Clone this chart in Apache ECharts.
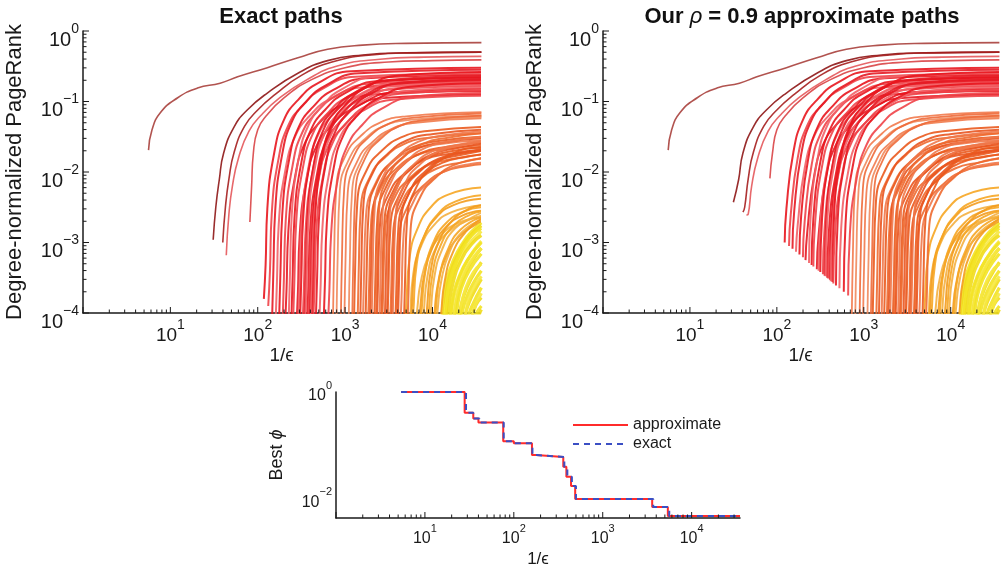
<!DOCTYPE html>
<html>
<head>
<meta charset="utf-8">
<script src="https://cdn.jsdelivr.net/npm/echarts@6/dist/echarts.min.js"></script>
<style>
html,body{margin:0;padding:0;background:#fff}
#chart{width:1001px;height:574px}
</style>
</head>
<body>
<div id="chart"></div>
<script>
var FONT = "'Liberation Sans', 'DejaVu Sans', sans-serif";
var INK = '#1a1a1a';

// tick labels (powers of ten)
var xTickExps = [1, 2, 3, 4];
var yTickExps = [0, -1, -2, -3, -4];
var phiTickExps = [0, -2];

// path points, as [log10(1/eps), log10(pagerank)]
var darkLines = [
  [[0.75,-1.69],[0.79,-1.4],[0.885,-1.16],[1.08,-0.95],[1.31,-0.81],[1.57,-0.74],[1.77,-0.65],[2.11,-0.52],[2.46,-0.38],[2.8,-0.26],[3.2,-0.2],[3.7,-0.175],[4.56,-0.165]],
  [[1.49,-2.96],[1.52,-2.5],[1.56,-2.11],[1.61,-1.73],[1.73,-1.36],[1.88,-1.12],[2.11,-0.88],[2.46,-0.6],[2.8,-0.42],[3.2,-0.34],[3.7,-0.31],[4.56,-0.3]],
  [[1.6,-3.0],[1.63,-2.5],[1.67,-2.1],[1.73,-1.72],[1.85,-1.35],[2.0,-1.12],[2.2,-0.9],[2.5,-0.63],[2.85,-0.44],[3.3,-0.34],[3.8,-0.31],[4.56,-0.3]],
  [[1.64,-3.18],[1.67,-2.6],[1.71,-2.2],[1.78,-1.8],[1.9,-1.42],[2.05,-1.18],[2.25,-0.95],[2.55,-0.7],[2.9,-0.5],[3.4,-0.4],[3.9,-0.37],[4.56,-0.36]],
  [[1.91,-2.71],[1.93,-2.2],[1.95,-1.73],[2.0,-1.4],[2.1,-1.2],[2.3,-0.95],[2.6,-0.7],[3.0,-0.52],[3.5,-0.44],[4.0,-0.42],[4.56,-0.41]]
];
var darkColors = ['#a8403c', '#8e1616', '#a51e1e', '#e4585b', '#d94446'];
// where the approximate paths begin (right panel)
var darkStartsApprox = [null, [1.5,-2.43], [1.61,-2.57], [1.65,-2.61], [1.92,-2.09]];

var redLines = [
  [[2.07,-3.8],[2.09,-3.32],[2.11,-2.52],[2.19,-1.72],[2.3,-1.26],[2.46,-0.98],[2.69,-0.74],[3.07,-0.57],[4.56,-0.52]],
  [[2.12,-3.9],[2.14,-3.4],[2.16,-2.6],[2.24,-1.8],[2.35,-1.34],[2.51,-1.06],[2.74,-0.82],[3.12,-0.65],[4.56,-0.6]],
  [[2.16,-4.3],[2.18,-3.35],[2.2,-2.55],[2.28,-1.75],[2.39,-1.29],[2.55,-1.01],[2.78,-0.77],[3.16,-0.6],[4.56,-0.55]],
  [[2.2,-4.3],[2.22,-3.55],[2.24,-2.75],[2.32,-1.95],[2.43,-1.49],[2.59,-1.21],[2.82,-0.97],[3.2,-0.8],[4.56,-0.75]],
  [[2.24,-4.3],[2.26,-3.42],[2.28,-2.62],[2.36,-1.82],[2.47,-1.36],[2.63,-1.08],[2.86,-0.84],[3.24,-0.67],[4.56,-0.62]],
  [[2.28,-4.3],[2.3,-3.5],[2.32,-2.7],[2.4,-1.9],[2.51,-1.44],[2.67,-1.16],[2.9,-0.92],[3.28,-0.75],[4.56,-0.7]],
  [[2.31,-4.3],[2.33,-3.65],[2.35,-2.85],[2.43,-2.05],[2.54,-1.59],[2.7,-1.31],[2.93,-1.07],[3.31,-0.9],[4.56,-0.85]],
  [[2.35,-4.3],[2.37,-3.4],[2.39,-2.6],[2.47,-1.8],[2.58,-1.34],[2.74,-1.06],[2.97,-0.82],[3.35,-0.65],[4.56,-0.6]],
  [[2.38,-4.3],[2.4,-3.46],[2.42,-2.66],[2.5,-1.86],[2.61,-1.4],[2.77,-1.12],[3.0,-0.88],[3.38,-0.71],[4.56,-0.66]],
  [[2.4,-4.3],[2.42,-3.52],[2.44,-2.72],[2.52,-1.92],[2.63,-1.46],[2.79,-1.18],[3.02,-0.94],[3.4,-0.77],[4.56,-0.72]],
  [[2.44,-4.3],[2.46,-3.7],[2.48,-2.9],[2.56,-2.1],[2.67,-1.64],[2.83,-1.36],[3.06,-1.12],[3.44,-0.95],[4.56,-0.9]],
  [[2.46,-4.3],[2.48,-3.54],[2.5,-2.74],[2.58,-1.94],[2.69,-1.48],[2.85,-1.2],[3.08,-0.96],[3.46,-0.79],[4.56,-0.74]],
  [[2.48,-4.3],[2.5,-3.46],[2.52,-2.66],[2.6,-1.86],[2.71,-1.4],[2.87,-1.12],[3.1,-0.88],[3.48,-0.71],[4.56,-0.66]],
  [[2.51,-4.3],[2.53,-3.58],[2.55,-2.78],[2.63,-1.98],[2.74,-1.52],[2.9,-1.24],[3.13,-1.0],[3.51,-0.83],[4.56,-0.78]],
  [[2.53,-4.3],[2.55,-3.44],[2.57,-2.64],[2.65,-1.84],[2.76,-1.38],[2.92,-1.1],[3.15,-0.86],[3.53,-0.69],[4.56,-0.64]],
  [[2.54,-4.3],[2.56,-3.5],[2.58,-2.7],[2.66,-1.9],[2.77,-1.44],[2.93,-1.16],[3.16,-0.92],[3.54,-0.75],[4.56,-0.7]],
  [[2.56,-4.3],[2.58,-3.62],[2.6,-2.82],[2.68,-2.02],[2.79,-1.56],[2.95,-1.28],[3.18,-1.04],[3.56,-0.87],[4.56,-0.82]],
  [[2.57,-4.3],[2.59,-3.72],[2.61,-2.92],[2.69,-2.12],[2.8,-1.66],[2.96,-1.38],[3.19,-1.14],[3.57,-0.97],[4.56,-0.92]],
  [[2.59,-4.3],[2.61,-3.5],[2.63,-2.7],[2.71,-1.9],[2.82,-1.44],[2.98,-1.16],[3.21,-0.92],[3.59,-0.75],[4.56,-0.7]],
  [[2.6,-4.3],[2.62,-3.56],[2.64,-2.76],[2.72,-1.96],[2.83,-1.5],[2.99,-1.22],[3.22,-0.98],[3.6,-0.81],[4.56,-0.76]],
  [[2.62,-4.3],[2.64,-3.38],[2.66,-2.58],[2.74,-1.78],[2.85,-1.32],[3.01,-1.04],[3.24,-0.8],[3.62,-0.63],[4.56,-0.58]],
  [[2.63,-4.3],[2.65,-3.64],[2.67,-2.84],[2.75,-2.04],[2.86,-1.58],[3.02,-1.3],[3.25,-1.06],[3.63,-0.89],[4.56,-0.84]],
  [[2.66,-4.3],[2.68,-3.48],[2.7,-2.68],[2.78,-1.88],[2.89,-1.42],[3.05,-1.14],[3.28,-0.9],[3.66,-0.73],[4.56,-0.68]],
  [[2.7,-4.3],[2.72,-3.6],[2.74,-2.8],[2.82,-2.0],[2.93,-1.54],[3.09,-1.26],[3.32,-1.02],[3.7,-0.85],[4.56,-0.8]],
  [[2.75,-4.3],[2.77,-3.54],[2.79,-2.74],[2.87,-1.94],[2.98,-1.48],[3.14,-1.2],[3.37,-0.96],[3.75,-0.79],[4.56,-0.74]],
  [[2.8,-4.3],[2.82,-3.68],[2.84,-2.88],[2.92,-2.08],[3.03,-1.62],[3.19,-1.34],[3.42,-1.1],[3.8,-0.93],[4.56,-0.88]]
];
var redColors = ['#e8161e', '#ef4348', '#e51a22', '#f26166'];
var redStartsApprox = [
  [2.09,-3.0],[2.14,-3.05],[2.18,-3.09],[2.22,-3.13],[2.26,-3.17],[2.3,-3.21],[2.33,-3.25],[2.37,-3.29],[2.4,-3.32],[2.42,-3.34],
  [2.46,-3.38],[2.48,-3.4],[2.5,-3.42],[2.53,-3.45],[2.55,-3.47],[2.56,-3.48],[2.58,-3.5],[2.59,-3.51],[2.61,-3.53],[2.62,-3.55],
  [2.64,-3.56],[2.65,-3.58],[2.68,-3.61],[2.72,-3.65],[2.77,-3.7],[2.82,-3.75]
];

var topOrangeLines = [
  [[2.86,-4.3],[2.875,-3.15],[2.9,-2.21],[3.02,-1.73],[3.17,-1.5],[3.4,-1.3],[3.7,-1.21],[4.56,-1.15]],
  [[2.9,-4.3],[2.915,-3.2],[2.94,-2.26],[3.06,-1.78],[3.21,-1.55],[3.44,-1.35],[3.74,-1.26],[4.56,-1.2]],
  [[2.95,-4.3],[2.965,-3.17],[2.99,-2.23],[3.11,-1.75],[3.26,-1.52],[3.49,-1.32],[3.79,-1.23],[4.56,-1.17]],
  [[2.99,-4.3],[3.005,-3.24],[3.03,-2.3],[3.15,-1.82],[3.3,-1.59],[3.53,-1.39],[3.83,-1.3],[4.56,-1.24]],
  [[3.04,-4.3],[3.055,-3.22],[3.08,-2.28],[3.2,-1.8],[3.35,-1.57],[3.58,-1.37],[3.88,-1.28],[4.56,-1.22]],
  [[3.08,-4.3],[3.095,-3.2],[3.12,-2.26],[3.24,-1.78],[3.39,-1.55],[3.62,-1.35],[3.92,-1.26],[4.56,-1.2]]
];
var topOrangeColors = ['#f27a4c', '#f08a5c', '#ee6a3a'];

var orangeLines = [
  [[3.1,-4.3],[3.115,-3.36],[3.14,-2.42],[3.26,-1.94],[3.41,-1.71],[3.64,-1.51],[3.94,-1.42],[4.56,-1.36]],
  [[3.14,-4.3],[3.155,-3.45],[3.18,-2.51],[3.3,-2.03],[3.45,-1.8],[3.68,-1.6],[3.98,-1.51],[4.56,-1.45]],
  [[3.17,-4.3],[3.185,-3.4],[3.21,-2.46],[3.33,-1.98],[3.48,-1.75],[3.71,-1.55],[4.01,-1.46],[4.56,-1.4]],
  [[3.2,-4.3],[3.215,-3.55],[3.24,-2.61],[3.36,-2.13],[3.51,-1.9],[3.74,-1.7],[4.04,-1.61],[4.56,-1.55]],
  [[3.23,-4.3],[3.245,-3.5],[3.27,-2.56],[3.39,-2.08],[3.54,-1.85],[3.77,-1.65],[4.07,-1.56],[4.56,-1.5]],
  [[3.26,-4.3],[3.275,-3.62],[3.3,-2.68],[3.42,-2.2],[3.57,-1.97],[3.8,-1.77],[4.1,-1.68],[4.56,-1.62]],
  [[3.28,-4.3],[3.295,-3.52],[3.32,-2.58],[3.44,-2.1],[3.59,-1.87],[3.82,-1.67],[4.12,-1.58],[4.56,-1.52]],
  [[3.3,-4.3],[3.315,-3.42],[3.34,-2.48],[3.46,-2.0],[3.61,-1.77],[3.84,-1.57],[4.14,-1.48],[4.56,-1.42]],
  [[3.33,-4.3],[3.345,-3.58],[3.37,-2.64],[3.49,-2.16],[3.64,-1.93],[3.87,-1.73],[4.17,-1.64],[4.56,-1.58]],
  [[3.35,-4.3],[3.365,-3.45],[3.39,-2.51],[3.51,-2.03],[3.66,-1.8],[3.89,-1.6],[4.19,-1.51],[4.56,-1.45]],
  [[3.36,-4.3],[3.375,-3.68],[3.4,-2.74],[3.52,-2.26],[3.67,-2.03],[3.9,-1.83],[4.2,-1.74],[4.56,-1.68]],
  [[3.39,-4.3],[3.405,-3.5],[3.43,-2.56],[3.55,-2.08],[3.7,-1.85],[3.93,-1.65],[4.23,-1.56],[4.56,-1.5]],
  [[3.41,-4.3],[3.425,-3.64],[3.45,-2.7],[3.57,-2.22],[3.72,-1.99],[3.95,-1.79],[4.25,-1.7],[4.56,-1.64]],
  [[3.42,-4.3],[3.435,-3.75],[3.46,-2.81],[3.58,-2.33],[3.73,-2.1],[3.96,-1.9],[4.26,-1.81],[4.56,-1.75]],
  [[3.45,-4.3],[3.465,-3.6],[3.49,-2.66],[3.61,-2.18],[3.76,-1.95],[3.99,-1.75],[4.29,-1.66],[4.56,-1.6]],
  [[3.47,-4.3],[3.485,-3.55],[3.51,-2.61],[3.63,-2.13],[3.78,-1.9],[4.01,-1.7],[4.31,-1.61],[4.56,-1.56]],
  [[3.48,-4.3],[3.495,-3.7],[3.52,-2.76],[3.64,-2.28],[3.79,-2.05],[4.02,-1.85],[4.32,-1.76],[4.56,-1.7]],
  [[3.51,-4.3],[3.525,-3.8],[3.55,-2.86],[3.67,-2.38],[3.82,-2.15],[4.05,-1.95],[4.35,-1.86],[4.56,-1.8]],
  [[3.53,-4.3],[3.545,-3.66],[3.57,-2.72],[3.69,-2.24],[3.84,-2.01],[4.07,-1.81],[4.37,-1.72],[4.56,-1.7]],
  [[3.54,-4.3],[3.555,-3.55],[3.58,-2.61],[3.7,-2.13],[3.85,-1.9],[4.08,-1.7],[4.38,-1.61],[4.56,-1.57]],
  [[3.57,-4.3],[3.585,-3.72],[3.61,-2.78],[3.73,-2.3],[3.88,-2.07],[4.11,-1.87],[4.41,-1.78],[4.56,-1.75]],
  [[3.58,-4.3],[3.595,-3.85],[3.62,-2.91],[3.74,-2.43],[3.89,-2.2],[4.12,-2.0],[4.42,-1.91],[4.56,-1.89]],
  [[3.6,-4.3],[3.615,-3.65],[3.64,-2.71],[3.76,-2.23],[3.91,-2.0],[4.14,-1.8],[4.44,-1.71],[4.56,-1.69]],
  [[3.63,-4.3],[3.645,-3.82],[3.67,-2.88],[3.79,-2.4],[3.94,-2.17],[4.17,-1.97],[4.47,-1.88],[4.56,-1.87]],
  [[3.67,-4.3],[3.685,-3.6],[3.71,-2.66],[3.83,-2.18],[3.98,-1.95],[4.21,-1.75],[4.51,-1.66],[4.56,-1.66]],
  [[3.71,-4.3],[3.725,-3.75],[3.75,-2.81],[3.87,-2.33],[4.02,-2.1],[4.25,-1.9],[4.56,-1.81]]
];
var orangeColors = ['#ea5a1e', '#ee6a30', '#e95520', '#f0784a'];

var lightOrangeLines = [
  [[3.68,-4.3],[3.7,-3.9],[3.74,-3.2],[3.83,-2.8],[3.98,-2.5],[4.18,-2.32],[4.56,-2.22]],
  [[3.72,-4.3],[3.74,-4.15],[3.78,-3.45],[3.87,-3.05],[4.02,-2.75],[4.22,-2.57],[4.56,-2.47]],
  [[3.74,-4.3],[3.76,-4.0],[3.8,-3.35],[3.89,-2.95],[4.04,-2.65],[4.24,-2.47],[4.56,-2.38]],
  [[3.76,-4.3],[3.78,-4.0],[3.82,-3.3],[3.91,-2.9],[4.06,-2.6],[4.26,-2.42],[4.56,-2.33]],
  [[3.8,-4.3],[3.83,-3.9],[3.86,-3.6],[3.95,-3.2],[4.1,-2.9],[4.3,-2.72],[4.56,-2.64]],
  [[3.84,-4.3],[3.87,-3.8],[3.9,-3.5],[3.99,-3.1],[4.14,-2.8],[4.34,-2.62],[4.56,-2.55]],
  [[3.86,-4.3],[3.88,-3.9],[3.92,-3.4],[4.01,-3.0],[4.16,-2.72],[4.36,-2.56],[4.56,-2.5]],
  [[3.88,-4.3],[3.9,-4.0],[3.94,-3.5],[4.03,-3.1],[4.18,-2.85],[4.38,-2.7],[4.56,-2.62]],
  [[3.92,-4.3],[3.94,-3.9],[3.98,-3.4],[4.07,-3.0],[4.22,-2.7],[4.42,-2.52],[4.56,-2.47]],
  [[3.94,-4.3],[3.96,-3.95],[4.0,-3.45],[4.09,-3.05],[4.24,-2.76],[4.44,-2.6],[4.56,-2.56]],
  [[3.96,-4.3],[3.98,-4.0],[4.02,-3.5],[4.11,-3.1],[4.26,-2.8],[4.46,-2.64],[4.56,-2.58]],
  [[4.0,-4.3],[4.02,-4.05],[4.06,-3.6],[4.15,-3.22],[4.3,-2.92],[4.5,-2.74],[4.56,-2.7]],
  [[4.02,-4.3],[4.04,-3.95],[4.08,-3.5],[4.17,-3.12],[4.32,-2.82],[4.56,-2.64]],
  [[4.04,-4.3],[4.06,-3.95],[4.1,-3.55],[4.19,-3.15],[4.34,-2.85],[4.56,-2.68]],
  [[4.08,-4.3],[4.1,-4.0],[4.14,-3.55],[4.23,-3.15],[4.38,-2.85],[4.56,-2.66]]
];
var lightOrangeColors = ['#f6a623', '#f4b040', '#f39c1e'];

var yellowLines = [
  [[4.1,-4.3],[4.12,-3.9],[4.16,-3.55],[4.24,-3.25],[4.35,-3.0],[4.46,-2.83],[4.56,-2.72]],
  [[4.12,-4.3],[4.15,-3.8],[4.2,-3.45],[4.3,-3.15],[4.42,-2.92],[4.56,-2.76]],
  [[4.13,-4.3],[4.15,-3.95],[4.2,-3.6],[4.28,-3.3],[4.4,-3.05],[4.56,-2.84]],
  [[4.15,-4.3],[4.18,-3.7],[4.24,-3.4],[4.33,-3.12],[4.45,-2.9],[4.56,-2.8]],
  [[4.16,-4.3],[4.19,-3.9],[4.24,-3.55],[4.33,-3.25],[4.45,-3.02],[4.56,-2.9]],
  [[4.19,-4.3],[4.22,-3.95],[4.27,-3.65],[4.36,-3.35],[4.47,-3.12],[4.56,-2.98]],
  [[4.2,-4.3],[4.23,-3.8],[4.3,-3.5],[4.4,-3.25],[4.56,-3.0]],
  [[4.22,-4.3],[4.25,-4.0],[4.3,-3.7],[4.39,-3.4],[4.5,-3.18],[4.56,-3.08]],
  [[4.24,-4.3],[4.27,-3.85],[4.33,-3.55],[4.42,-3.3],[4.56,-3.08]],
  [[4.25,-4.3],[4.28,-3.95],[4.33,-3.65],[4.42,-3.4],[4.56,-3.16]],
  [[4.28,-4.3],[4.31,-4.0],[4.36,-3.75],[4.45,-3.5],[4.56,-3.28]],
  [[4.3,-4.3],[4.33,-3.9],[4.38,-3.65],[4.47,-3.42],[4.56,-3.3]],
  [[4.31,-4.3],[4.34,-4.0],[4.39,-3.78],[4.48,-3.55],[4.56,-3.4]],
  [[4.34,-4.3],[4.37,-4.05],[4.42,-3.85],[4.5,-3.65],[4.56,-3.52]],
  [[4.36,-4.3],[4.39,-3.95],[4.44,-3.72],[4.56,-3.48]],
  [[4.38,-4.3],[4.41,-4.05],[4.46,-3.88],[4.56,-3.64]],
  [[4.42,-4.3],[4.45,-4.05],[4.5,-3.88],[4.56,-3.78]],
  [[4.44,-4.3],[4.47,-3.98],[4.56,-3.72]],
  [[4.46,-4.3],[4.49,-4.05],[4.56,-3.9]],
  [[4.5,-4.3],[4.53,-4.05],[4.56,-3.95]]
];
var yellowColors = ['#f3e324', '#f1dc1a', '#f6e840'];

// best conductance found along the path, [1/eps, phi]
var bestPhiApprox = [[5.4,1],[28,0.41],[35,0.32],[40,0.27],[76,0.12],[100,0.11],[160,0.066],[178,0.061],[360,0.04],[390,0.026],[440,0.0175],[490,0.01],[3600,0.0071],[5400,0.0048],[35000,0.0048]];
var bestPhiExact = [[5.4,1],[29,0.41],[35,0.32],[41,0.27],[77,0.12],[100,0.11],[162,0.066],[180,0.061],[370,0.04],[400,0.026],[450,0.0175],[500,0.01],[3700,0.0071],[5600,0.0048],[35000,0.0048]];

var X_MAX = 35000;
var PHI_MIN = 0.0044;

function toXY(pts) {
  return pts.map(function (p) { return [Math.pow(10, p[0]), Math.pow(10, p[1])]; });
}

function approxPath(pts, start) {
  if (!start) return pts;
  var out = [start];
  pts.forEach(function (p) {
    if (p[0] > start[0] && p[1] > start[1]) out.push(p);
  });
  return out;
}

var series = [];
function addLine(pts, color, width, panel) {
  series.push({
    type: 'line', xAxisIndex: panel, yAxisIndex: panel,
    data: toXY(pts), symbol: 'none', smooth: 0.5,
    silent: true, lineStyle: { color: color, width: width, opacity: 0.9 }
  });
}

[0, 1].forEach(function (panel) {
  yellowLines.forEach(function (l, i) { addLine(l, yellowColors[i % 3], 3.2, panel); });
  lightOrangeLines.forEach(function (l, i) { addLine(l, lightOrangeColors[i % 3], 2.0, panel); });
  orangeLines.forEach(function (l, i) { addLine(l, orangeColors[i % 4], 2.0, panel); });
  topOrangeLines.forEach(function (l, i) { addLine(l, topOrangeColors[i % 3], 1.8, panel); });
  redLines.forEach(function (l, i) {
    addLine(panel ? approxPath(l, redStartsApprox[i]) : l, redColors[i % 4], 2.0, panel);
  });
  darkLines.forEach(function (l, i) {
    addLine(panel ? approxPath(l, darkStartsApprox[i]) : l, darkColors[i], 1.6, panel);
  });
});

series.push({
  name: 'approximate', type: 'line', xAxisIndex: 2, yAxisIndex: 2, step: 'end',
  data: bestPhiApprox, symbol: 'none', itemStyle: { opacity: 0 },
  lineStyle: { color: '#ff2b2b', width: 2 }, z: 3
});
series.push({
  name: 'exact', type: 'line', xAxisIndex: 2, yAxisIndex: 2, step: 'end',
  data: bestPhiExact, symbol: 'none', itemStyle: { opacity: 0 },
  lineStyle: { color: '#3b4fc4', width: 2, type: [6, 5] }, z: 4
});

// log minor/major ticks pointing into the plot
function makeTicks(yMin, withY) {
  var d = [], k, m, v;
  for (k = 0; k <= 4; k++) {
    for (m = 1; m <= 9; m++) {
      v = m * Math.pow(10, k);
      if (v > X_MAX) break;
      d.push([v, yMin, 0, m === 1 ? 6 : 3.5]);
    }
  }
  if (withY) {
    for (k = -4; k < 0; k++) {
      for (m = 1; m <= 9; m++) d.push([1, m * Math.pow(10, k), 1, m === 1 ? 6 : 3.5]);
    }
    d.push([1, 1, 1, 6]);
  }
  return d;
}
function tickRender(params, api) {
  var p = api.coord([api.value(0), api.value(1)]);
  var len = api.value(3);
  var vert = api.value(2) === 0;
  return {
    type: 'line',
    shape: { x1: p[0], y1: p[1], x2: vert ? p[0] : p[0] + len, y2: vert ? p[1] - len : p[1] },
    style: { stroke: INK, lineWidth: 1 }
  };
}
[0, 1, 2].forEach(function (i) {
  series.push({
    type: 'custom', xAxisIndex: i, yAxisIndex: i, silent: true, z: 6,
    data: makeTicks(i === 2 ? PHI_MIN : 1e-4, i !== 2),
    encode: { x: 0, y: 1 }, renderItem: tickRender
  });
});

function expLabel(allowed) {
  return function (v) {
    var e = Math.log10(v), r = Math.round(e);
    if (Math.abs(e - r) > 1e-3 || allowed.indexOf(r) < 0) return '';
    return '{b|10}{s|' + (r < 0 ? '\u2212' + (-r) : r) + '}';
  };
}
function supRich(base, sup) {
  return {
    b: { fontSize: base, fontFamily: FONT, color: INK, lineHeight: base + 8, verticalAlign: 'bottom' },
    s: { fontSize: sup, fontFamily: FONT, color: INK, lineHeight: 10, verticalAlign: 'top' }
  };
}
var axisLine = { show: true, lineStyle: { color: INK, width: 1.5 } };

function xAxisFor(grid, base, sup, gap, nameSize) {
  return {
    type: 'log', logBase: 10, gridIndex: grid, min: 1, max: X_MAX,
    axisLine: axisLine, axisTick: { show: false }, splitLine: { show: false }, minorTick: { show: false },
    axisLabel: { formatter: expLabel(xTickExps), margin: 5, rich: supRich(base, sup) },
    name: '1/\u03f5', nameLocation: 'middle', nameGap: gap,
    nameTextStyle: { fontSize: nameSize, fontFamily: FONT, color: INK }
  };
}

var option = {
  animation: false,
  backgroundColor: '#fff',
  grid: [
    { left: 83, top: 31, width: 397, height: 282 },
    { left: 603, top: 31, width: 397, height: 282 },
    { left: 336, top: 392, width: 404, height: 126 }
  ],
  xAxis: [
    xAxisFor(0, 19, 14, 33, 19),
    xAxisFor(1, 19, 14, 33, 19),
    xAxisFor(2, 16, 11, 33, 17)
  ],
  yAxis: [0, 1].map(function (g) {
    return {
      type: 'log', logBase: 10, gridIndex: g, min: 1e-4, max: 1,
      axisLine: axisLine, axisTick: { show: false }, splitLine: { show: false },
      axisLabel: { formatter: expLabel(yTickExps), margin: 4, padding: [10, 0, 0, 0], rich: supRich(20, 14) },
      name: 'Degree-normalized PageRank', nameLocation: 'middle', nameGap: 57,
      nameTextStyle: { fontSize: 22, fontFamily: FONT, color: INK }
    };
  }).concat([{
    type: 'log', logBase: 10, gridIndex: 2, min: PHI_MIN, max: 1,
    axisLine: axisLine, axisTick: { show: false }, splitLine: { show: false },
    axisLabel: { formatter: expLabel(phiTickExps), margin: 4, rich: supRich(16, 11) },
    name: '{n|Best }{i|\u03d5}', nameLocation: 'middle', nameGap: 50,
    nameTextStyle: {
      rich: {
        n: { fontSize: 18, fontFamily: FONT, color: INK },
        i: { fontSize: 18, fontFamily: FONT, color: INK, fontStyle: 'italic' }
      }
    }
  }]),
  legend: {
    data: ['approximate', 'exact'], orient: 'vertical', left: 567, top: 412,
    itemWidth: 55, itemHeight: 14, itemGap: 3, selectedMode: false,
    itemStyle: { opacity: 0 },
    textStyle: { fontSize: 16, fontFamily: FONT, color: INK, lineHeight: 14 }
  },
  graphic: [
    {
      type: 'text', x: 281, y: 17, silent: true,
      style: { text: 'Exact paths', fontSize: 22, fontWeight: 'bold', fontFamily: FONT, fill: '#111', align: 'center', verticalAlign: 'middle' }
    },
    {
      type: 'text', x: 802, y: 17, silent: true,
      style: {
        text: '{b|Our }{i|\u03c1}{b| = 0.9 approximate paths}',
        align: 'center', verticalAlign: 'middle',
        rich: {
          b: { fontSize: 22, fontWeight: 'bold', fontFamily: FONT, fill: '#111' },
          i: { fontSize: 22, fontStyle: 'italic', fontFamily: FONT, fill: '#111' }
        }
      }
    }
  ],
  series: series
};

var myChart = echarts.init(document.getElementById('chart'));
myChart.setOption(option);
</script>
</body>
</html>
